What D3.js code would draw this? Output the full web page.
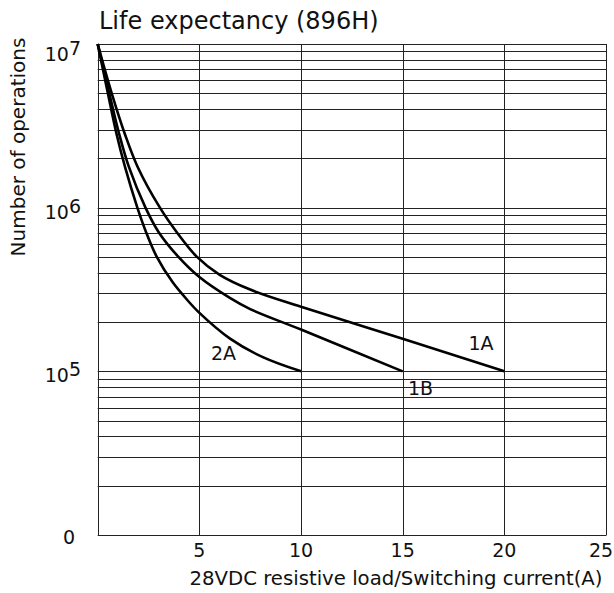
<!DOCTYPE html>
<html>
<head>
<meta charset="utf-8">
<script src="https://cdn.jsdelivr.net/npm/d3@7"></script>
<style>
  html, body { margin: 0; padding: 0; background: #fff; }
  svg { display: block; }
  text { font-family: "DejaVu Sans", sans-serif; fill: #111; }
</style>
</head>
<body>
<svg id="chart" width="614" height="593"></svg>
<script>
// ---- data ----
const titleText = "Life expectancy (896H)";
const xLabelText = "28VDC resistive load/Switching current(A)";
const yLabelText = "Number of operations";
const xTicks = [5, 10, 15, 20, 25];
const yDecades = [4, 5, 6, 7];          // exponents for 10^n labels
const yZeroLabel = "0";                 // bottom label shown at 10^4
const seriesNames = ["1A", "1B", "2A"];
const current1A = [0, 0.69, 1.34, 1.96, 3.06, 3.89, 4.87, 6.0, 7.5, 10, 15, 20];
const ops1A     = [1e7, 5.0e6, 2.81e6, 1.78e6, 1.0e6, 7.08e5, 5.02e5, 3.89e5, 3.16e5, 2.48e5, 1.58e5, 1e5];
const current1B = [0, 0.57, 1.06, 1.53, 2.35, 3.0, 3.96, 5.0, 6.5, 7.5, 10, 15];
const ops1B     = [1e7, 5.0e6, 2.81e6, 1.78e6, 1.0e6, 7.08e5, 5.02e5, 3.77e5, 2.81e5, 2.40e5, 1.8e5, 1e5];
const current2A = [0, 0.5, 0.93, 1.34, 1.95, 2.38, 2.90, 3.68, 4.46, 4.95, 6.51, 8.15, 10];
const ops2A     = [1e7, 5.0e6, 2.81e6, 1.78e6, 1.0e6, 7.08e5, 5.02e5, 3.51e5, 2.68e5, 2.31e5, 1.585e5, 1.216e5, 1e5];
// label anchor points (data coords) for series names
const labelX = [18.85, 15.88, 6.19];
const labelOps = [1.35e5, 7.18e4, 1.175e5];

// ---- layout ----
const svg = d3.select("#chart");
const W = 614, H = 593;
const mLeft = 97.7, mRight = 606, mTop = 44, mBottom = 535;

const x = d3.scaleLinear().domain([0, 25]).range([mLeft, mRight]);
const y = d3.scaleLog().domain([1e4, 1e7]).range([mBottom, mTop]);

const g = svg.append("g");

// horizontal grid (log minor lines)
const hLines = [];
for (let e = 4; e < 7; e++) for (let k = 1; k <= 9; k++) hLines.push(k * Math.pow(10, e));
hLines.push(1e7);
g.selectAll("line.h").data(hLines).enter().append("line")
  .attr("x1", mLeft).attr("x2", mRight)
  .attr("y1", d => Math.round(y(d)) + 0.5).attr("y2", d => Math.round(y(d)) + 0.5)
  .attr("stroke", "#222").attr("stroke-width", 1);

// vertical grid
g.selectAll("line.v").data([0].concat(xTicks)).enter().append("line")
  .attr("x1", d => Math.round(x(d)) + 0.5).attr("x2", d => Math.round(x(d)) + 0.5)
  .attr("y1", mTop).attr("y2", mBottom + 0.5)
  .attr("stroke", "#222").attr("stroke-width", 1);

// curves
const series = [
  current1A.map((c, i) => ({ c, n: ops1A[i] })),
  current1B.map((c, i) => ({ c, n: ops1B[i] })),
  current2A.map((c, i) => ({ c, n: ops2A[i] }))
];
const line = d3.line().x(d => x(d.c)).y(d => y(d.n)).curve(d3.curveCatmullRom.alpha(0.5));
g.selectAll("path.curve").data(series).enter().append("path")
  .attr("d", line).attr("fill", "none")
  .attr("stroke", "#000").attr("stroke-width", 2.6)
  .attr("stroke-linejoin", "round");

// series labels
g.selectAll("text.sl").data(seriesNames).enter().append("text")
  .attr("x", (d, i) => x(labelX[i])).attr("y", (d, i) => y(labelOps[i]))
  .attr("text-anchor", "middle").attr("font-size", 19).text(d => d);

// x tick labels
g.selectAll("text.xt").data(xTicks).enter().append("text")
  .attr("x", d => Math.min(x(d), W - 13)).attr("y", 557)
  .attr("text-anchor", "middle").attr("font-size", 19).text(d => d);

// y tick labels
const yl = g.selectAll("text.yt").data(yDecades).enter().append("text")
  .attr("x", 81).attr("y", d => Math.max(y(Math.pow(10, d)) + 11, 61))
  .attr("text-anchor", "end").attr("font-size", 19);
yl.each(function(d) {
  const t = d3.select(this);
  if (d === 4) { t.attr("x", 75).attr("y", 544).text(yZeroLabel); return; }
  t.append("tspan").text("10");
  t.append("tspan").attr("dy", -6).text(d);
});

// title
svg.append("text").attr("x", 99).attr("y", 29).attr("font-size", 24).text(titleText);
// x label
svg.append("text").attr("x", 396).attr("y", 585).attr("text-anchor", "middle")
  .attr("font-size", 19.7).text(xLabelText);
// y label
svg.append("text").attr("transform", "translate(25,147) rotate(-90)")
  .attr("text-anchor", "middle").attr("font-size", 20).text(yLabelText);
</script>
</body>
</html>
